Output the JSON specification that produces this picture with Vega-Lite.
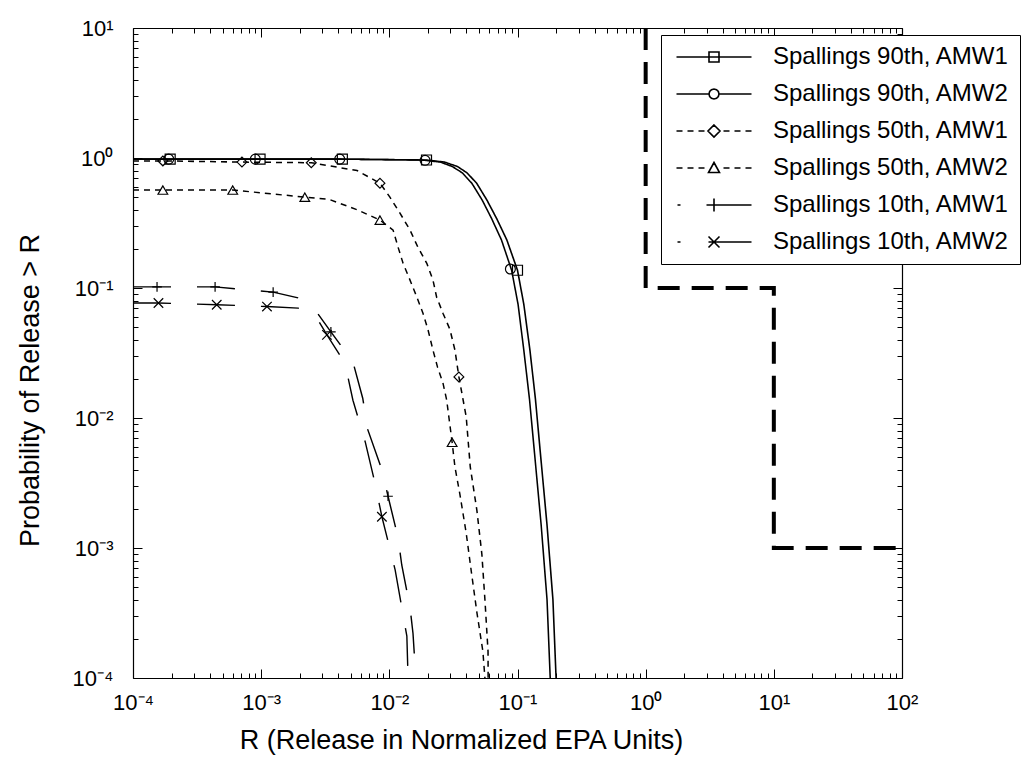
{
  "$schema": "https://vega.github.io/schema/vega-lite/v6.json",
  "width": 769,
  "height": 650,
  "autosize": "none",
  "padding": {"left": 133, "top": 28, "right": 119, "bottom": 91},
  "background": "white",
  "config": {
    "view": {"stroke": null},
    "font": "Liberation Sans",
    "axis": {
      "grid": false,
      "domainColor": "black",
      "domainWidth": 1.2,
      "tickColor": "black",
      "tickWidth": 1,
      "labelColor": "black",
      "titleColor": "black",
      "labelFont": "Liberation Sans",
      "titleFont": "Liberation Sans",
      "labelFontSize": 22,
      "titleFontSize": 27,
      "titleFontWeight": "normal",
      "labelOverlap": false,
      "labelFlush": false
    }
  },
  "datasets": {
    "epa": [
      {"i": 1, "x": 1, "p": 10},
      {"i": 2, "x": 1, "p": 0.1},
      {"i": 3, "x": 10, "p": 0.1},
      {"i": 4, "x": 10, "p": 0.001},
      {"i": 5, "x": 100, "p": 0.001}
    ],
    "curves": [
      {"series": "Spallings 90th, AMW1", "x": 0.0001, "p": 0.98},
      {"series": "Spallings 90th, AMW1", "x": 0.000195, "p": 0.98},
      {"series": "Spallings 90th, AMW1", "x": 0.00098, "p": 0.98},
      {"series": "Spallings 90th, AMW1", "x": 0.0043, "p": 0.98},
      {"series": "Spallings 90th, AMW1", "x": 0.0195, "p": 0.965},
      {"series": "Spallings 90th, AMW1", "x": 0.027, "p": 0.93},
      {"series": "Spallings 90th, AMW1", "x": 0.034, "p": 0.86},
      {"series": "Spallings 90th, AMW1", "x": 0.0403, "p": 0.77},
      {"series": "Spallings 90th, AMW1", "x": 0.048, "p": 0.64},
      {"series": "Spallings 90th, AMW1", "x": 0.0577, "p": 0.475},
      {"series": "Spallings 90th, AMW1", "x": 0.069, "p": 0.34},
      {"series": "Spallings 90th, AMW1", "x": 0.0826, "p": 0.234},
      {"series": "Spallings 90th, AMW1", "x": 0.1, "p": 0.137},
      {"series": "Spallings 90th, AMW1", "x": 0.112, "p": 0.075},
      {"series": "Spallings 90th, AMW1", "x": 0.125, "p": 0.0333},
      {"series": "Spallings 90th, AMW1", "x": 0.138, "p": 0.014},
      {"series": "Spallings 90th, AMW1", "x": 0.15, "p": 0.0057},
      {"series": "Spallings 90th, AMW1", "x": 0.17, "p": 0.0015},
      {"series": "Spallings 90th, AMW1", "x": 0.189, "p": 0.0004},
      {"series": "Spallings 90th, AMW1", "x": 0.2, "p": 0.0001},

      {"series": "Spallings 90th, AMW2", "x": 0.0001, "p": 0.98},
      {"series": "Spallings 90th, AMW2", "x": 0.0009, "p": 0.98},
      {"series": "Spallings 90th, AMW2", "x": 0.0041, "p": 0.98},
      {"series": "Spallings 90th, AMW2", "x": 0.018, "p": 0.965},
      {"series": "Spallings 90th, AMW2", "x": 0.025, "p": 0.93},
      {"series": "Spallings 90th, AMW2", "x": 0.031, "p": 0.86},
      {"series": "Spallings 90th, AMW2", "x": 0.037, "p": 0.77},
      {"series": "Spallings 90th, AMW2", "x": 0.044, "p": 0.64},
      {"series": "Spallings 90th, AMW2", "x": 0.053, "p": 0.475},
      {"series": "Spallings 90th, AMW2", "x": 0.063, "p": 0.34},
      {"series": "Spallings 90th, AMW2", "x": 0.075, "p": 0.234},
      {"series": "Spallings 90th, AMW2", "x": 0.09, "p": 0.137},
      {"series": "Spallings 90th, AMW2", "x": 0.101, "p": 0.075},
      {"series": "Spallings 90th, AMW2", "x": 0.112, "p": 0.0333},
      {"series": "Spallings 90th, AMW2", "x": 0.124, "p": 0.014},
      {"series": "Spallings 90th, AMW2", "x": 0.135, "p": 0.0057},
      {"series": "Spallings 90th, AMW2", "x": 0.153, "p": 0.0015},
      {"series": "Spallings 90th, AMW2", "x": 0.17, "p": 0.0004},
      {"series": "Spallings 90th, AMW2", "x": 0.18, "p": 0.0001},

      {"series": "Spallings 50th, AMW1", "x": 0.0001, "p": 0.95},
      {"series": "Spallings 50th, AMW1", "x": 0.000171, "p": 0.95},
      {"series": "Spallings 50th, AMW1", "x": 0.000708, "p": 0.93},
      {"series": "Spallings 50th, AMW1", "x": 0.00246, "p": 0.92},
      {"series": "Spallings 50th, AMW1", "x": 0.0056, "p": 0.8},
      {"series": "Spallings 50th, AMW1", "x": 0.00845, "p": 0.64},
      {"series": "Spallings 50th, AMW1", "x": 0.0101, "p": 0.5},
      {"series": "Spallings 50th, AMW1", "x": 0.0121, "p": 0.377},
      {"series": "Spallings 50th, AMW1", "x": 0.0145, "p": 0.279},
      {"series": "Spallings 50th, AMW1", "x": 0.0167, "p": 0.206},
      {"series": "Spallings 50th, AMW1", "x": 0.0196, "p": 0.155},
      {"series": "Spallings 50th, AMW1", "x": 0.0219, "p": 0.115},
      {"series": "Spallings 50th, AMW1", "x": 0.0234, "p": 0.085},
      {"series": "Spallings 50th, AMW1", "x": 0.0262, "p": 0.064},
      {"series": "Spallings 50th, AMW1", "x": 0.0297, "p": 0.048},
      {"series": "Spallings 50th, AMW1", "x": 0.0325, "p": 0.0333},
      {"series": "Spallings 50th, AMW1", "x": 0.0349, "p": 0.0207},
      {"series": "Spallings 50th, AMW1", "x": 0.0398, "p": 0.0102},
      {"series": "Spallings 50th, AMW1", "x": 0.0428, "p": 0.0042},
      {"series": "Spallings 50th, AMW1", "x": 0.0482, "p": 0.00195},
      {"series": "Spallings 50th, AMW1", "x": 0.0527, "p": 0.0009},
      {"series": "Spallings 50th, AMW1", "x": 0.0557, "p": 0.0004},
      {"series": "Spallings 50th, AMW1", "x": 0.0589, "p": 0.00016},
      {"series": "Spallings 50th, AMW1", "x": 0.059, "p": 0.0001},

      {"series": "Spallings 50th, AMW2", "x": 0.0001, "p": 0.567},
      {"series": "Spallings 50th, AMW2", "x": 0.000171, "p": 0.567},
      {"series": "Spallings 50th, AMW2", "x": 0.0006, "p": 0.567},
      {"series": "Spallings 50th, AMW2", "x": 0.00219, "p": 0.5},
      {"series": "Spallings 50th, AMW2", "x": 0.0034, "p": 0.48},
      {"series": "Spallings 50th, AMW2", "x": 0.0056, "p": 0.4},
      {"series": "Spallings 50th, AMW2", "x": 0.00845, "p": 0.333},
      {"series": "Spallings 50th, AMW2", "x": 0.0107, "p": 0.279},
      {"series": "Spallings 50th, AMW2", "x": 0.0117, "p": 0.206},
      {"series": "Spallings 50th, AMW2", "x": 0.0128, "p": 0.155},
      {"series": "Spallings 50th, AMW2", "x": 0.0145, "p": 0.115},
      {"series": "Spallings 50th, AMW2", "x": 0.0164, "p": 0.085},
      {"series": "Spallings 50th, AMW2", "x": 0.0183, "p": 0.064},
      {"series": "Spallings 50th, AMW2", "x": 0.02, "p": 0.048},
      {"series": "Spallings 50th, AMW2", "x": 0.0219, "p": 0.0333},
      {"series": "Spallings 50th, AMW2", "x": 0.0238, "p": 0.0245},
      {"series": "Spallings 50th, AMW2", "x": 0.0262, "p": 0.0186},
      {"series": "Spallings 50th, AMW2", "x": 0.028, "p": 0.0138},
      {"series": "Spallings 50th, AMW2", "x": 0.0309, "p": 0.0065},
      {"series": "Spallings 50th, AMW2", "x": 0.0325, "p": 0.0042},
      {"series": "Spallings 50th, AMW2", "x": 0.0355, "p": 0.0026},
      {"series": "Spallings 50th, AMW2", "x": 0.0398, "p": 0.0013},
      {"series": "Spallings 50th, AMW2", "x": 0.0437, "p": 0.00065},
      {"series": "Spallings 50th, AMW2", "x": 0.0482, "p": 0.00032},
      {"series": "Spallings 50th, AMW2", "x": 0.0537, "p": 0.00016},
      {"series": "Spallings 50th, AMW2", "x": 0.0557, "p": 0.0001},

      {"series": "Spallings 10th, AMW1", "x": 0.0001, "p": 0.102},
      {"series": "Spallings 10th, AMW1", "x": 0.000154, "p": 0.102},
      {"series": "Spallings 10th, AMW1", "x": 0.000437, "p": 0.102},
      {"series": "Spallings 10th, AMW1", "x": 0.00124, "p": 0.093},
      {"series": "Spallings 10th, AMW1", "x": 0.00194, "p": 0.084},
      {"series": "Spallings 10th, AMW1", "x": 0.00263, "p": 0.068},
      {"series": "Spallings 10th, AMW1", "x": 0.0035, "p": 0.046},
      {"series": "Spallings 10th, AMW1", "x": 0.0052, "p": 0.027},
      {"series": "Spallings 10th, AMW1", "x": 0.0062, "p": 0.0142},
      {"series": "Spallings 10th, AMW1", "x": 0.0068, "p": 0.0081},
      {"series": "Spallings 10th, AMW1", "x": 0.00875, "p": 0.004},
      {"series": "Spallings 10th, AMW1", "x": 0.00977, "p": 0.0025},
      {"series": "Spallings 10th, AMW1", "x": 0.0117, "p": 0.0012},
      {"series": "Spallings 10th, AMW1", "x": 0.0125, "p": 0.00074},
      {"series": "Spallings 10th, AMW1", "x": 0.0145, "p": 0.00035},
      {"series": "Spallings 10th, AMW1", "x": 0.0153, "p": 0.00022},
      {"series": "Spallings 10th, AMW1", "x": 0.0161, "p": 0.0001},

      {"series": "Spallings 10th, AMW2", "x": 0.0001, "p": 0.0767},
      {"series": "Spallings 10th, AMW2", "x": 0.000158, "p": 0.0767},
      {"series": "Spallings 10th, AMW2", "x": 0.00045, "p": 0.0743},
      {"series": "Spallings 10th, AMW2", "x": 0.00111, "p": 0.072},
      {"series": "Spallings 10th, AMW2", "x": 0.00194, "p": 0.07},
      {"series": "Spallings 10th, AMW2", "x": 0.00263, "p": 0.062},
      {"series": "Spallings 10th, AMW2", "x": 0.00326, "p": 0.0436},
      {"series": "Spallings 10th, AMW2", "x": 0.0045, "p": 0.0265},
      {"series": "Spallings 10th, AMW2", "x": 0.0052, "p": 0.0137},
      {"series": "Spallings 10th, AMW2", "x": 0.0065, "p": 0.0065},
      {"series": "Spallings 10th, AMW2", "x": 0.0077, "p": 0.0032},
      {"series": "Spallings 10th, AMW2", "x": 0.00875, "p": 0.00174},
      {"series": "Spallings 10th, AMW2", "x": 0.0111, "p": 0.00068},
      {"series": "Spallings 10th, AMW2", "x": 0.0127, "p": 0.00032},
      {"series": "Spallings 10th, AMW2", "x": 0.0137, "p": 0.00021},
      {"series": "Spallings 10th, AMW2", "x": 0.014, "p": 0.0001}
    ],
    "markers": [
      {"series": "Spallings 90th, AMW1", "x": 0.000195, "p": 0.98},
      {"series": "Spallings 90th, AMW1", "x": 0.00098, "p": 0.98},
      {"series": "Spallings 90th, AMW1", "x": 0.0043, "p": 0.98},
      {"series": "Spallings 90th, AMW1", "x": 0.0195, "p": 0.965},
      {"series": "Spallings 90th, AMW1", "x": 0.1, "p": 0.137},
      {"series": "Spallings 90th, AMW2", "x": 0.00019, "p": 0.98},
      {"series": "Spallings 90th, AMW2", "x": 0.0009, "p": 0.98},
      {"series": "Spallings 90th, AMW2", "x": 0.0041, "p": 0.98},
      {"series": "Spallings 90th, AMW2", "x": 0.019, "p": 0.96},
      {"series": "Spallings 90th, AMW2", "x": 0.088, "p": 0.14},
      {"series": "Spallings 50th, AMW1", "x": 0.000171, "p": 0.95},
      {"series": "Spallings 50th, AMW1", "x": 0.000708, "p": 0.93},
      {"series": "Spallings 50th, AMW1", "x": 0.00246, "p": 0.92},
      {"series": "Spallings 50th, AMW1", "x": 0.00845, "p": 0.64},
      {"series": "Spallings 50th, AMW1", "x": 0.0349, "p": 0.0207},
      {"series": "Spallings 50th, AMW2", "x": 0.000171, "p": 0.567},
      {"series": "Spallings 50th, AMW2", "x": 0.0006, "p": 0.567},
      {"series": "Spallings 50th, AMW2", "x": 0.00219, "p": 0.5},
      {"series": "Spallings 50th, AMW2", "x": 0.00845, "p": 0.333},
      {"series": "Spallings 50th, AMW2", "x": 0.0309, "p": 0.0065},
      {"series": "Spallings 10th, AMW1", "x": 0.000154, "p": 0.102},
      {"series": "Spallings 10th, AMW1", "x": 0.000437, "p": 0.102},
      {"series": "Spallings 10th, AMW1", "x": 0.00124, "p": 0.093},
      {"series": "Spallings 10th, AMW1", "x": 0.0035, "p": 0.046},
      {"series": "Spallings 10th, AMW1", "x": 0.00977, "p": 0.0025},
      {"series": "Spallings 10th, AMW2", "x": 0.000158, "p": 0.0767},
      {"series": "Spallings 10th, AMW2", "x": 0.00045, "p": 0.0743},
      {"series": "Spallings 10th, AMW2", "x": 0.00111, "p": 0.072},
      {"series": "Spallings 10th, AMW2", "x": 0.00326, "p": 0.0436},
      {"series": "Spallings 10th, AMW2", "x": 0.00875, "p": 0.00174}
    ]
  },
  "resolve": {
    "axis": {"x": "independent", "y": "independent"},
    "scale": {"shape": "independent"},
    "legend": {"shape": "independent"}
  },
  "layer": [
    {
      "data": {"name": "epa"},
      "mark": {"type": "line", "color": "black", "strokeWidth": 4, "strokeDash": [22, 12], "clip": true},
      "encoding": {
        "x": {
          "field": "x", "type": "quantitative",
          "scale": {"type": "log", "domain": [0.0001, 100], "nice": false},
          "axis": {
            "orient": "bottom",
            "title": "R (Release in Normalized EPA Units)",
            "titleX": 328,
            "titleY": 62,
            "titleAlign": "center",
            "titleBaseline": "middle",
            "values": [0.0001,0.0002,0.0003,0.0004,0.0005,0.0006,0.0007,0.0008,0.0009,0.001,0.002,0.003,0.004,0.005,0.006,0.007,0.008,0.009,0.01,0.02,0.03,0.04,0.05,0.06,0.07,0.08,0.09,0.1,0.2,0.3,0.4,0.5,0.6,0.7,0.8,0.9,1,2,3,4,5,6,7,8,9,10,20,30,40,50,60,70,80,90,100],
            "tickSize": {"condition": {"test": "abs(log(datum.value)/LN10 - round(log(datum.value)/LN10)) < 0.001", "value": -9}, "value": -5},
            "labelLineHeight": 21,
            "labelExpr": "abs(log(datum.value)/LN10 - round(log(datum.value)/LN10)) < 0.001 ? ['', '10' + ['⁻⁴','⁻³','⁻²','⁻¹','⁰','¹','²'][round(log(datum.value)/LN10)+4]] : ''"
          }
        },
        "y": {
          "field": "p", "type": "quantitative",
          "scale": {"type": "log", "domain": [0.0001, 10], "nice": false},
          "axis": {
            "orient": "left",
            "offset": 18,
            "domain": false,
            "ticks": false,
            "labelPadding": 2,
            "title": "Probability of Release > R",
            "titleX": -85,
            "titleY": 362,
            "titleAlign": "center",
            "titleBaseline": "middle",
            "titleAngle": -90,
            "values": [0.0001,0.001,0.01,0.1,1,10],
            "labelExpr": "'10' + ['⁻⁴','⁻³','⁻²','⁻¹','⁰','¹'][round(log(datum.value)/LN10)+4]"
          }
        },
        "order": {"field": "i", "type": "quantitative"}
      }
    },
    {
      "data": {"name": "curves"},
      "mark": {"type": "line", "color": "black", "clip": true},
      "encoding": {
        "x": {"field": "x", "type": "quantitative", "scale": {"type": "log", "domain": [0.0001, 100], "nice": false}, "axis": null},
        "y": {
          "field": "p", "type": "quantitative",
          "scale": {"type": "log", "domain": [0.0001, 10], "nice": false},
          "axis": {
            "orient": "left", "title": null, "labels": false,
            "values": [0.0001,0.0002,0.0003,0.0004,0.0005,0.0006,0.0007,0.0008,0.0009,0.001,0.002,0.003,0.004,0.005,0.006,0.007,0.008,0.009,0.01,0.02,0.03,0.04,0.05,0.06,0.07,0.08,0.09,0.1,0.2,0.3,0.4,0.5,0.6,0.7,0.8,0.9,1,2,3,4,5,6,7,8,9,10],
            "tickSize": {"condition": {"test": "abs(log(datum.value)/LN10 - round(log(datum.value)/LN10)) < 0.001", "value": -9}, "value": -5}
          }
        },
        "strokeDash": {
          "field": "series", "type": "nominal", "legend": null,
          "scale": {
            "domain": ["Spallings 90th, AMW1", "Spallings 90th, AMW2", "Spallings 50th, AMW1", "Spallings 50th, AMW2", "Spallings 10th, AMW1", "Spallings 10th, AMW2"],
            "range": [[1, 0], [1, 0], [6, 5], [6, 5], [38, 26], [38, 26]]
          }
        },
        "strokeWidth": {
          "field": "series", "type": "nominal", "legend": null,
          "scale": {
            "domain": ["Spallings 90th, AMW1", "Spallings 90th, AMW2", "Spallings 50th, AMW1", "Spallings 50th, AMW2", "Spallings 10th, AMW1", "Spallings 10th, AMW2"],
            "range": [1.6, 1.4, 2.2, 1.8, 2.2, 2]
          }
        }
      }
    },
    {
      "data": {"name": "markers"},
      "mark": {"type": "point", "filled": false, "color": "black", "strokeWidth": 1.2, "clip": true, "opacity": 1},
      "encoding": {
        "x": {
          "field": "x", "type": "quantitative",
          "scale": {"type": "log", "domain": [0.0001, 100], "nice": false},
          "axis": {
            "orient": "top", "title": null, "labels": false,
            "values": [0.0001,0.0002,0.0003,0.0004,0.0005,0.0006,0.0007,0.0008,0.0009,0.001,0.002,0.003,0.004,0.005,0.006,0.007,0.008,0.009,0.01,0.02,0.03,0.04,0.05,0.06,0.07,0.08,0.09,0.1,0.2,0.3,0.4,0.5,0.6,0.7,0.8,0.9,1,2,3,4,5,6,7,8,9,10,20,30,40,50,60,70,80,90,100],
            "tickSize": {"condition": {"test": "abs(log(datum.value)/LN10 - round(log(datum.value)/LN10)) < 0.001", "value": -9}, "value": -5}
          }
        },
        "y": {
          "field": "p", "type": "quantitative",
          "scale": {"type": "log", "domain": [0.0001, 10], "nice": false},
          "axis": {
            "orient": "right", "title": null, "labels": false,
            "values": [0.0001,0.0002,0.0003,0.0004,0.0005,0.0006,0.0007,0.0008,0.0009,0.001,0.002,0.003,0.004,0.005,0.006,0.007,0.008,0.009,0.01,0.02,0.03,0.04,0.05,0.06,0.07,0.08,0.09,0.1,0.2,0.3,0.4,0.5,0.6,0.7,0.8,0.9,1,2,3,4,5,6,7,8,9,10],
            "tickSize": {"condition": {"test": "abs(log(datum.value)/LN10 - round(log(datum.value)/LN10)) < 0.001", "value": -9}, "value": -5}
          }
        },
        "shape": {
          "field": "series", "type": "nominal", "legend": null,
          "scale": {
            "domain": ["Spallings 90th, AMW1", "Spallings 90th, AMW2", "Spallings 50th, AMW1", "Spallings 50th, AMW2", "Spallings 10th, AMW1", "Spallings 10th, AMW2"],
            "range": ["square", "circle", "diamond", "triangle-up", "M-1,0H1M0,-1V1", "M-1,-1L1,1M-1,1L1,-1"]
          }
        },
        "size": {
          "field": "series", "type": "nominal", "legend": null,
          "scale": {
            "domain": ["Spallings 90th, AMW1", "Spallings 90th, AMW2", "Spallings 50th, AMW1", "Spallings 50th, AMW2", "Spallings 10th, AMW1", "Spallings 10th, AMW2"],
            "range": [100, 90, 110, 90, 160, 130]
          }
        }
      }
    },
    {
      "data": {"name": "markers"},
      "mark": {"type": "point", "filled": false, "color": "black", "opacity": 0},
      "encoding": {
        "x": {"field": "x", "type": "quantitative", "scale": {"type": "log", "domain": [0.0001, 100], "nice": false}, "axis": null},
        "y": {"field": "p", "type": "quantitative", "scale": {"type": "log", "domain": [0.0001, 10], "nice": false}, "axis": null},
        "shape": {
          "field": "series", "type": "nominal",
          "scale": {
            "domain": ["Spallings 90th, AMW1", "Spallings 90th, AMW2", "Spallings 50th, AMW1", "Spallings 50th, AMW2", "Spallings 10th, AMW1", "Spallings 10th, AMW2"],
            "range": [
              "M-7.5,0H7.5M-1,-1H1V1H-1Z",
              "M-7.5,0H-1M1,0H7.5M1,0L0.866,0.5L0.5,0.866L0,1L-0.5,0.866L-0.866,0.5L-1,0L-0.866,-0.5L-0.5,-0.866L0,-1L0.5,-0.866L0.866,-0.5Z",
              "M-7.5,0H-6.3M-5.3,0H-4.1M-3.1,0H-1.9M0,-1.2L1.2,0L0,1.2L-1.2,0ZM1.9,0H3.1M4.1,0H5.3M6.3,0H7.5",
              "M-7.5,0H-6.3M-5.3,0H-4.1M-3.1,0H-1.9M0,-1.1L1.1,0.9H-1.1ZM1.9,0H3.1M4.1,0H5.3M6.3,0H7.5",
              "M-7.3,0H-6.7M-1.5,0H7.5M0,-1.3V1.3",
              "M-7.3,0H-6.7M-1.1,0H7.5M-1.1,-1.1L1.1,1.1M-1.1,1.1L1.1,-1.1"
            ]
          },
          "legend": {
            "title": null,
            "orient": "none",
            "legendX": 528,
            "legendY": 7,
            "padding": 10,
            "strokeColor": "black",
            "fillColor": "white",
            "symbolSize": 100,
            "symbolOffset": 31,
            "symbolStrokeWidth": 1.6,
            "symbolStrokeColor": "black",
            "symbolFillColor": "white",
            "symbolOpacity": 1,
            "labelFont": "Liberation Sans",
            "labelFontSize": 24,
            "labelColor": "black",
            "labelOffset": 47,
            "labelLimit": 400,
            "rowPadding": 13,
            "encode": {
              "legend": {"update": {"strokeWidth": {"value": 2}}},
              "labels": {"update": {"fontWeight": {"signal": "indexof(datum.label, 'AMW1') >= 0 ? 'bold' : 'normal'"}}}
            }
          }
        }
      }
    }
  ]
}
